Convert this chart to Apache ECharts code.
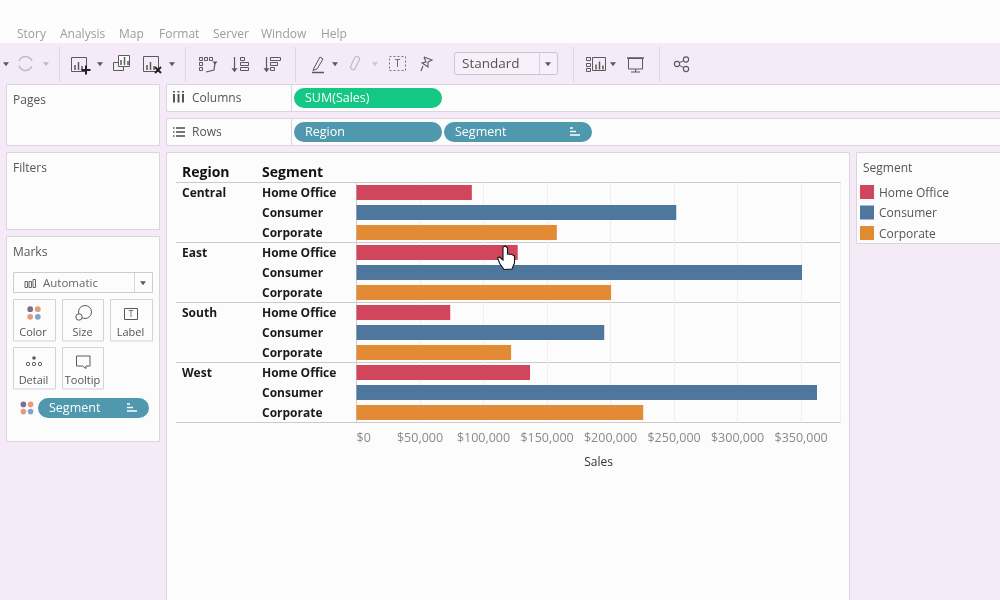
<!DOCTYPE html>
<html><head><meta charset="utf-8">
<style>html,body{margin:0;padding:0;background:#F5EAF8}#c{width:1000px;height:600px}</style>
<script src="https://cdn.jsdelivr.net/npm/echarts@6/dist/echarts.min.js"></script>
</head><body><div id="c"></div>
<script>
const regions = ['Central', 'East', 'South', 'West'];
const segments = ['Home Office', 'Consumer', 'Corporate'];
const homeOffice = [90800, 126900, 73800, 136600];
const consumer = [251700, 350700, 195000, 362500];
const corporate = [157700, 200400, 121700, 225700];
const segmentColors = ['#D1465C', '#4F779D', '#E38A34'];
const menuItems = [['Story',17],['Analysis',60],['Map',119],['Format',159],['Server',213],['Window',261],['Help',321]];

const UI = '"Open Sans", "Noto Sans", sans-serif';
const g = [];
const rect=(x,y,w,h,fill,stroke,lw,r)=>g.push({type:'rect',z:-10,shape:{x,y,width:w,height:h,r:r||0},style:{fill:fill||'none',stroke:stroke||'none',lineWidth:lw||1}});
const line=(x1,y1,x2,y2,stroke,lw,dash)=>g.push({type:'line',z:-10,shape:{x1,y1,x2,y2},style:{stroke,lineWidth:lw||1,lineDash:dash||null}});
const circ=(cx,cy,r,fill,stroke,lw)=>g.push({type:'circle',z:-10,shape:{cx,cy,r},style:{fill:fill||'none',stroke:stroke||'none',lineWidth:lw||1}});
const poly=(points,fill,stroke,lw,z)=>g.push({type:'polygon',z:z||-10,shape:{points},style:{fill:fill||'none',stroke:stroke||'none',lineWidth:lw||1}});
const pl=(points,stroke,lw)=>g.push({type:'polyline',z:-10,shape:{points},style:{fill:'none',stroke,lineWidth:lw||1}});
const txt=(text,x,y,fill,size,weight,align)=>g.push({type:'text',z:-10,style:{text,x,y:y+1,fill,font:(weight||'normal')+' '+size+'px '+UI,verticalAlign:'middle',align:align||'left'}});
const caret=(cx,cy,fill,s)=>{s=s||3;poly([[cx-s,cy-s/1.6],[cx+s,cy-s/1.6],[cx,cy+s/1.4]],fill);};
const BORDER='#D9D5DC',PANEL='#FCFCFD',ICON='#5A5A5A',TEAL='#4F98AD';

// top band and menu
rect(0,0,1000,43,'#FDFDFD');
menuItems.forEach(m=>txt(m[0],m[1],33.5,'#9C9C9C',12));

// toolbar separators
[59.5,185.5,295.5,573.5,659.5].forEach(x=>line(x,47,x,82,'#DCD7E0'));
caret(6,64,ICON);
g.push({type:'arc',z:-10,shape:{cx:25.5,cy:63.5,r:7,startAngle:0.4,endAngle:2.8},style:{fill:'none',stroke:'#BDBDBD',lineWidth:1.5}});
g.push({type:'arc',z:-10,shape:{cx:25.5,cy:63.5,r:7,startAngle:3.5,endAngle:5.9},style:{fill:'none',stroke:'#BDBDBD',lineWidth:1.5}});
caret(46,64,'#BDBDBD');
const bars=(x,y)=>{line(x,y,x,y-5,ICON,1.5);line(x+3.5,y,x+3.5,y-8,ICON,1.5);line(x+7,y,x+7,y-4,ICON,1.5);};
rect(71.5,57.5,15,14,null,ICON); bars(75,70); line(81.5,70,90.5,70,'#222',2); line(86,65.5,86,74.5,'#222',2); caret(100,64,ICON);
rect(113.5,62.5,10,8,null,ICON); rect(118.5,55.5,11,11,PANEL,ICON); bars(121,65);
rect(143.5,56.5,15,15,null,ICON); bars(147,70); line(155,67,161,73,'#222',2); line(161,67,155,73,'#222',2); caret(172,64,ICON);
[[199.5,57.5],[204.5,57.5],[209.5,57.5],[199.5,62.5],[199.5,67.5]].forEach(p=>rect(p[0],p[1],3,3,null,ICON));
pl([[215,63],[214,70],[206,72]],ICON,1.2); caret(215,63,ICON,2.5);
// sort icons
line(234.5,57,234.5,70,ICON,1.2); caret(234.5,70,ICON,3); rect(240.5,57.5,4,3,null,ICON); rect(240.5,62.5,8,3,null,ICON); rect(240.5,67.5,8,3,null,ICON);
line(266.5,57,266.5,70,ICON,1.2); caret(266.5,70,ICON,3); rect(270.5,57.5,10,3,null,ICON); rect(270.5,62.5,7,3,null,ICON); rect(270.5,67.5,4,3,null,ICON);
// highlighter
poly([[314,68],[320,57],[323,59],[317,69],[313,70.5]],null,ICON); line(312,72.5,324,72.5,ICON,1.5); caret(335,64,ICON);
// paperclip
g.push({type:'rect',z:-10,rotation:-0.45,originX:355,originY:63,shape:{x:352.5,y:56,width:5,height:14,r:2.5},style:{fill:'none',stroke:'#BDBDBD',lineWidth:1.2}});
caret(375,64,'#C8C8C8');
// T box
rect(389.5,56.5,16,14,null,'#777',1); g[g.length-1].style.lineDash=[2,2];
txt('T',397.5,63,ICON,10,'normal','center');
// pin
pl([[424,57],[432,60],[428,62],[428,67],[422,63],[426,62],[424,57]],ICON,1.1); line(423,66,421,71,ICON,1.1);
// Standard dropdown
rect(454.5,52.5,103,22,'#F7EFF9','#C9C5CC',1,2); line(539.5,53,539.5,74,'#D5D1D8'); txt('Standard',462,63,'#555',13.5); caret(548,64,ICON);
// show me
[[586.5,57.5],[586.5,63.5],[586.5,68.5]].forEach(p=>rect(p[0],p[1],4,3,null,ICON));
rect(592.5,57.5,13,13,null,ICON); bars(596,69.5); caret(613,64,ICON);
// presentation
line(627,58,644,58,ICON,1.5); rect(628.5,58.5,14,10.5,null,ICON); line(635.5,69,635.5,72,ICON); line(631,72,640,72,ICON);
// share
line(686,59.5,677,64,ICON); line(677,64,686,69,ICON);
circ(686,59.5,2.6,'#F5EAF8',ICON,1.1); circ(677,64,2.6,'#F5EAF8',ICON,1.1); circ(686,69,2.6,'#F5EAF8',ICON,1.1);

// side panels
rect(6.5,84.5,153,61,PANEL,BORDER); txt('Pages',13,100,'#555',12);
rect(6.5,152.5,153,77,PANEL,BORDER); txt('Filters',13,168,'#555',12);
rect(6.5,236.5,153,205,PANEL,BORDER); txt('Marks',13,252,'#555',12);
rect(13.5,272.5,139,20,PANEL,'#CFCBD2'); line(134.5,273,134.5,292,'#D9D5DC');
[26,30,34].forEach((x,i)=>rect(x-1,[281.5,281.5,279.5][i],2.5,[6,6,8][i],null,'#666'));
txt('Automatic',43,283,'#666',11.5); caret(143,283,ICON);
[[13.5,299.5,'Color',33],[62.5,299.5,'Size',82.5],[110.5,299.5,'Label',130.5],[13.5,347.5,'Detail',33.5],[62.5,347.5,'Tooltip',82.5]].forEach(b=>{
  rect(b[0],b[1],b[0]===62.5?41:42,41.5,PANEL,'#D5D1D8'); txt(b[2],b[3],b[1]+32,'#555',11,'normal','center');
});
const dots=(cx,cy,d,r)=>{circ(cx-d,cy-d,r,'#7C6E93');circ(cx+d,cy-d,r,'#E59C7D');circ(cx-d,cy+d,r,'#E59C7D');circ(cx+d,cy+d,r,'#85A3C4');};
dots(34,313,3.8,2.9);
circ(85,312,6.5,null,ICON); circ(79,317,3.2,PANEL,ICON);
rect(124.5,308.5,13,11,null,ICON); txt('T',131,313.5,ICON,9,'normal','center');
circ(34,358,1.8,ICON); [28,34,40].forEach(x=>circ(x,364,1.7,null,ICON));
poly([[76.5,356],[90,356],[90,366],[86,366],[86,368.5],[82.5,366],[76.5,366]],null,ICON);
dots(27,408,3.6,2.8);
rect(38,398,111,20,TEAL,null,1,10); txt('Segment',49,407,'#fff',12.5);
const sortIcon=(x,y)=>{line(x,y,x+3,y,'#fff',1.5);line(x,y+3.5,x+6,y+3.5,'#fff',1.5);line(x,y+7,x+10,y+7,'#fff',1.5);};
sortIcon(127,404);

// shelves
rect(166.5,84.5,840,27,PANEL,BORDER); line(291.5,85,291.5,111,BORDER);
rect(166.5,118.5,840,27,PANEL,BORDER); line(291.5,119,291.5,145,BORDER);
[174,178.5,183].forEach(x=>{line(x,94,x,102.5,'#555',2);line(x,91,x,92.5,'#555',2);});
txt('Columns',192,98,'#555',12);
[128,132,136].forEach(y=>{line(176,y,185,y,'#555',1.6);line(173,y,174.5,y,'#555',1.6);});
txt('Rows',192,132,'#555',12);
rect(294,88,148,20,'#14C784',null,1,10); txt('SUM(Sales)',305,97.5,'#fff',12.5);
rect(294,122,148,20,TEAL,null,1,10); txt('Region',305,131.5,'#fff',12.5);
rect(444,122,148,20,TEAL,null,1,10); txt('Segment',455,131.5,'#fff',12.5);
sortIcon(570,128);

// view and legend panels
rect(166.5,152.5,683,460,PANEL,BORDER);
rect(856.5,152.5,160,91,PANEL,BORDER);
txt('Segment',863,168,'#555',12);

// header row and separators
txt('Region',182,172,'#111',14,'bold');
txt('Segment',262,172,'#111',14,'bold');
regions.concat(['']).forEach((r,i)=>line(176,182.5+i*60,840.5,182.5+i*60,'#CBCBCB'));

// mouse cursor
poly([[503,247],[505.5,246],[507.5,248],[507.5,254],[512,254.5],[514.5,256],[514.5,263],[512,269],[504,269.5],[500,264],[497.5,258],[499.5,257],[503,260]],'#fff','#111',1.1,50);

const rowLabels=[],regionLabels=[];
regions.forEach(r=>segments.forEach((s,j)=>{rowLabels.push(s);regionLabels.push(j===0?r:'');}));
const seriesValues=[homeOffice,consumer,corporate];
const series=segments.map((s,j)=>({
  name:s,type:'bar',barWidth:15,barGap:'-100%',silent:true,
  itemStyle:{color:segmentColors[j]},
  data:rowLabels.map((_,i)=>(i%3===j?seriesValues[j][Math.floor(i/3)]:null))
}));
const yBase={type:'category',inverse:true,position:'left',axisTick:{show:false}};
const rowLabelStyle={interval:0,align:'left',
  formatter:v=>v?'{a|'+v+'}':'',
  rich:{a:{color:'#1A1A1A',fontWeight:'bold',fontSize:12,fontFamily:UI,padding:[2,0,0,0]}}};
const chart=echarts.init(document.getElementById('c'));
chart.setOption({
  animation:false,
  backgroundColor:'#F5EAF8',
  textStyle:{fontFamily:UI},
  graphic:{elements:g},
  grid:{left:356.5,top:182.5,width:484,height:240,show:true,borderColor:'#CBCBCB',borderWidth:1,backgroundColor:'transparent'},
  legend:{orient:'vertical',left:860,top:185,padding:0,icon:'rect',itemWidth:14,itemHeight:14,itemGap:6,selectedMode:false,data:segments,
    formatter:n=>'{a|'+n+'}',
    textStyle:{rich:{a:{color:'#555',fontSize:12,fontFamily:UI,padding:[3,0,0,0]}}}},
  xAxis:{type:'value',min:0,max:381000,interval:50000,
    name:'Sales',nameLocation:'middle',nameGap:34,nameTextStyle:{color:'#333',fontSize:12,fontFamily:UI},
    axisLine:{show:false},axisTick:{show:false},
    splitLine:{show:true,lineStyle:{color:'#F1ECF6',width:1}},
    axisLabel:{color:'#8A8A8A',fontSize:12.5,margin:9,showMaxLabel:false,alignMinLabel:'left',
      formatter:v=>'$'+v.toLocaleString('en-US')}},
  yAxis:[
    Object.assign({},yBase,{data:rowLabels,axisLine:{show:true,lineStyle:{color:'#CBCBCB'}},
      axisLabel:Object.assign({},rowLabelStyle,{margin:94.5})}),
    Object.assign({},yBase,{data:regionLabels,axisLine:{show:false},
      axisLabel:Object.assign({},rowLabelStyle,{margin:174.5})})
  ],
  series
});
</script></body></html>
